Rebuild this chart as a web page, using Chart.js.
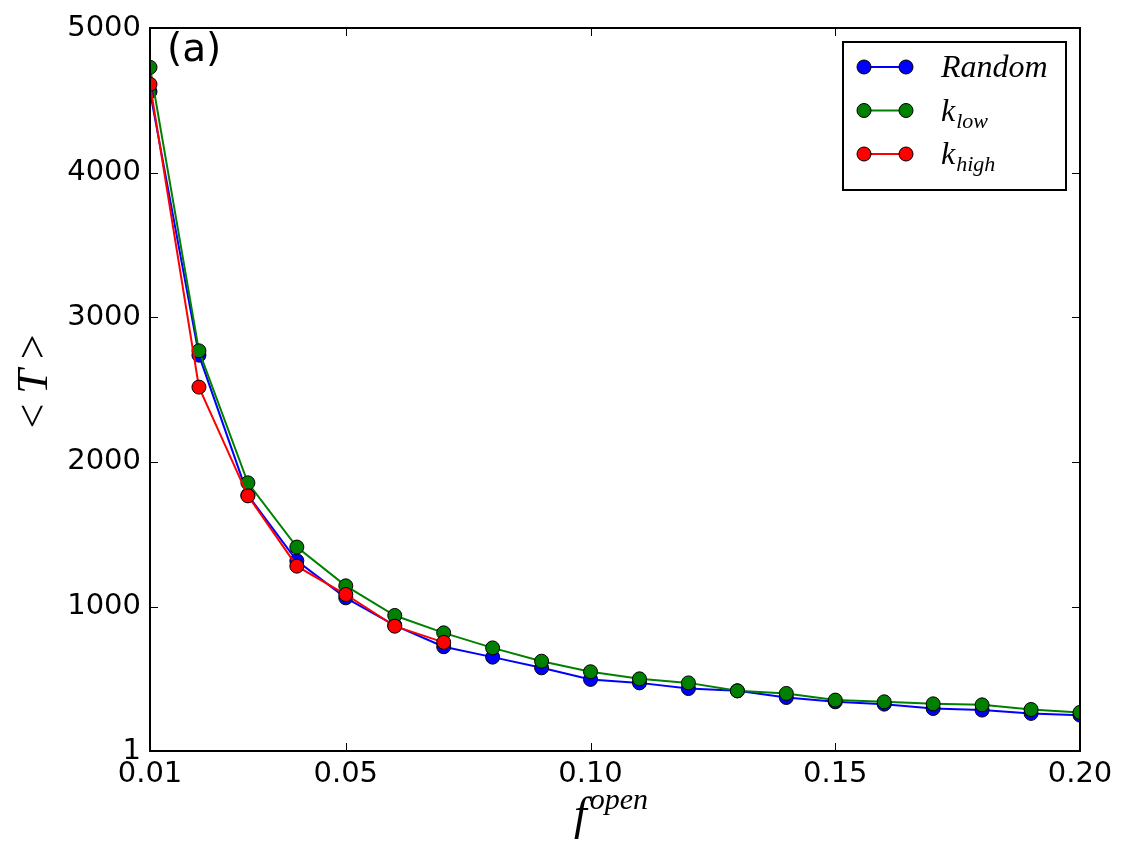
<!DOCTYPE html>
<html>
<head>
<meta charset="utf-8">
<script src="https://cdn.jsdelivr.net/npm/chart.js@4.4.0/dist/chart.umd.min.js"></script>
<style>
  html, body { margin: 0; padding: 0; background: #fff; }
</style>
</head>
<body>
<canvas id="chart" width="1128" height="857"></canvas>
<script>
'use strict';

// ── DATA ────────────────────────────────────────────────────────────────────
const fOpen   = [0.01, 0.02, 0.03, 0.04, 0.05, 0.06, 0.07, 0.08, 0.09, 0.10,
                 0.11, 0.12, 0.13, 0.14, 0.15, 0.16, 0.17, 0.18, 0.19, 0.20];
const randomT = [4560, 2738, 1770, 1316, 1060, 870, 722, 650, 576, 496,
                 472, 433, 417, 371, 341, 325, 295, 284, 261, 249];
const kLowT   = [4728, 2768, 1855, 1411, 1143, 938, 818, 714, 622, 549,
                 500, 472, 417, 399, 353, 341, 327, 320, 288, 268];
const kHighT  = [4611, 2517, 1765, 1279, 1083, 864, 752];

const xTickVals   = [0.01, 0.05, 0.10, 0.15, 0.20];
const xTickLabels = ['0.01', '0.05', '0.10', '0.15', '0.20'];
const yTickVals   = [1, 1000, 2000, 3000, 4000, 5000];
const yTickLabels = ['1', '1000', '2000', '3000', '4000', '5000'];

const SERIES = [
  { key: 'random', color: '#0000ff', values: randomT, order: 3 },
  { key: 'klow',   color: '#008000', values: kLowT,   order: 2 },
  { key: 'khigh',  color: '#ff0000', values: kHighT,  order: 1 },
];

const TICK_FONT = { family: '"DejaVu Sans", sans-serif', size: 29 };
const SERIF = '"Liberation Serif", serif';

// Draws a run of text pieces (with optional sub/superscript offsets)
function drawRich(ctx, parts, x, y) {
  let cx = x;
  parts.forEach(p => {
    ctx.font = p.font;
    ctx.fillText(p.t, cx, y + (p.dy || 0));
    cx += ctx.measureText(p.t).width + (p.gap || 0);
  });
  return cx;
}

// ── FRAME, INWARD TICKS, TITLES, LEGEND ─────────────────────────────────────
const decorPlugin = {
  id: 'decor',
  afterDatasetsDraw(chart) {
    const { ctx, chartArea: a, scales } = chart;
    ctx.save();
    ctx.strokeStyle = '#000';
    // inward ticks on all four sides
    ctx.lineWidth = 1;
    const tl = 8;
    ctx.beginPath();
    xTickVals.forEach(v => {
      const px = Math.round(scales.x.getPixelForValue(v)) + 0.5;
      ctx.moveTo(px, a.bottom); ctx.lineTo(px, a.bottom - tl);
      ctx.moveTo(px, a.top);    ctx.lineTo(px, a.top + tl);
    });
    yTickVals.forEach(v => {
      const py = Math.round(scales.y.getPixelForValue(v)) + 0.5;
      ctx.moveTo(a.left, py);  ctx.lineTo(a.left + tl, py);
      ctx.moveTo(a.right, py); ctx.lineTo(a.right - tl, py);
    });
    ctx.stroke();
    // spines
    ctx.lineWidth = 2;
    ctx.strokeRect(a.left, a.top, a.right - a.left, a.bottom - a.top);
    ctx.restore();
  },
  afterDraw(chart) {
    const { ctx, chartArea: a } = chart;
    ctx.save();
    ctx.fillStyle = '#000';
    ctx.textBaseline = 'alphabetic';
    ctx.textAlign = 'left';

    // panel label
    ctx.font = '39px "DejaVu Sans", sans-serif';
    ctx.fillText('(a)', a.left + 17, a.top + 33);

    // x title: f^open
    drawRich(ctx, [
      { t: 'f',    font: 'italic 46px ' + SERIF, gap: 3 },
      { t: 'open', font: 'italic 30px ' + SERIF, dy: -20 },
    ], 574, a.bottom + 78);

    // y title: <T>
    ctx.translate(a.left - 117, (a.top + a.bottom) / 2 - 8);
    ctx.rotate(-Math.PI / 2);
    ctx.font = '44px ' + SERIF;
    const w1 = ctx.measureText('<').width;
    ctx.font = 'italic 44px ' + SERIF;
    const w2 = ctx.measureText('T').width;
    const gap = 10;
    const total = w1 * 2 + w2 + gap * 2;
    drawRich(ctx, [
      { t: '<', font: '44px ' + SERIF, gap: gap },
      { t: 'T', font: 'italic 44px ' + SERIF, gap: gap },
      { t: '>', font: '44px ' + SERIF },
    ], -total / 2, 14);
    ctx.setTransform(1, 0, 0, 1, 0, 0);

    // legend
    const bx = a.right - 237, by = a.top + 14, bw = 223, bh = 148;
    ctx.fillStyle = '#fff';
    ctx.fillRect(bx, by, bw, bh);
    ctx.strokeStyle = '#000';
    ctx.lineWidth = 2;
    ctx.strokeRect(bx, by, bw, bh);

    const labels = [
      [{ t: 'Random', font: 'italic 32px ' + SERIF }],
      [{ t: 'k',   font: 'italic 32px ' + SERIF, gap: 1 },
       { t: 'low', font: 'italic 22px ' + SERIF, dy: 7 }],
      [{ t: 'k',    font: 'italic 32px ' + SERIF, gap: 1 },
       { t: 'high', font: 'italic 22px ' + SERIF, dy: 7 }],
    ];
    SERIES.forEach((s, i) => {
      const y = by + 25 + i * 43.5;
      const x0 = bx + 21, x1 = bx + 63;
      ctx.strokeStyle = s.color;
      ctx.lineWidth = 2;
      ctx.beginPath(); ctx.moveTo(x0, y); ctx.lineTo(x1, y); ctx.stroke();
      [x0, x1].forEach(cx => {
        ctx.beginPath();
        ctx.arc(cx, y, 7, 0, Math.PI * 2);
        ctx.fillStyle = s.color;
        ctx.fill();
        ctx.strokeStyle = '#000';
        ctx.lineWidth = 1;
        ctx.stroke();
      });
      ctx.fillStyle = '#000';
      drawRich(ctx, labels[i], bx + 98, y + 10);
    });
    ctx.restore();
  },
};

// ── CHART ───────────────────────────────────────────────────────────────────
new Chart(document.getElementById('chart'), {
  type: 'line',
  data: {
    datasets: SERIES.map(s => ({
      label: s.key,
      data: s.values.map((v, i) => ({ x: fOpen[i], y: v })),
      borderColor: s.color,
      backgroundColor: s.color,
      borderWidth: 2,
      pointRadius: 7,
      pointBackgroundColor: s.color,
      pointBorderColor: '#000',
      pointBorderWidth: 1,
      tension: 0,
      clip: 0,
      order: s.order,
    })),
  },
  options: {
    responsive: false,
    animation: false,
    devicePixelRatio: 1,
    layout: { padding: { left: 0, right: 48, top: 28, bottom: 0 } },
    plugins: { legend: { display: false }, tooltip: { enabled: false } },
    scales: {
      x: {
        type: 'linear',
        min: 0.01,
        max: 0.20,
        afterBuildTicks: sc => { sc.ticks = xTickVals.map(v => ({ value: v })); },
        afterFit: sc => { sc.height = 106; },
        ticks: {
          color: '#000',
          font: TICK_FONT,
          padding: 6,
          maxRotation: 0,
          callback: (v, i) => xTickLabels[i],
        },
        grid: { display: false, drawTicks: false },
        border: { display: false },
      },
      y: {
        type: 'linear',
        min: 1,
        max: 5000,
        afterBuildTicks: sc => { sc.ticks = yTickVals.map(v => ({ value: v })); },
        afterFit: sc => { sc.width = 150; },
        ticks: {
          color: '#000',
          font: TICK_FONT,
          padding: 9,
          callback: (v, i) => yTickLabels[i],
        },
        grid: { display: false, drawTicks: false },
        border: { display: false },
      },
    },
  },
  plugins: [decorPlugin],
});
</script>
</body>
</html>
